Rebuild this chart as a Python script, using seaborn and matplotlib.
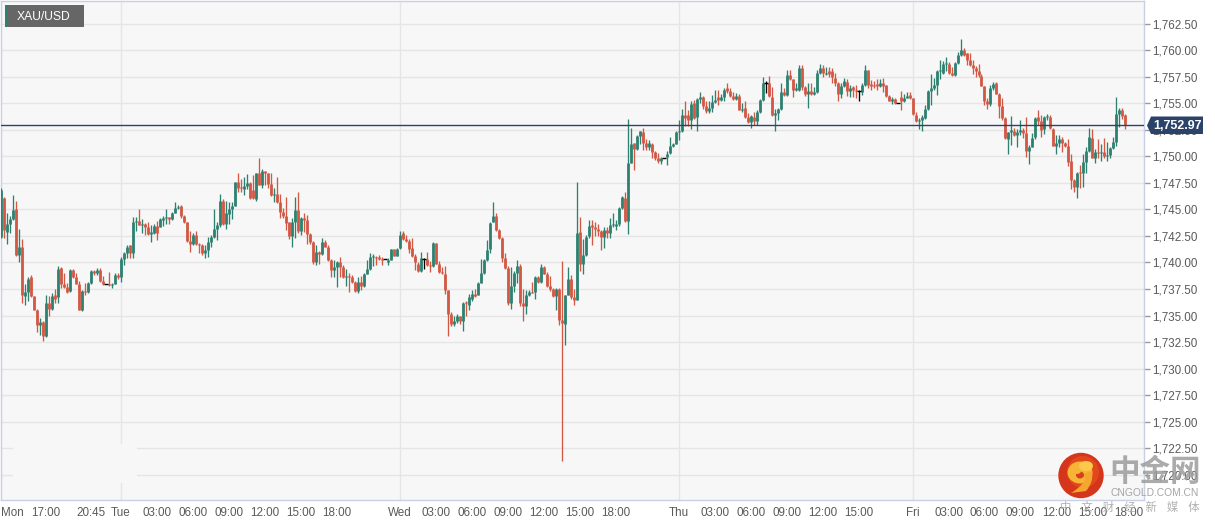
import matplotlib
matplotlib.use("Agg")
import matplotlib.pyplot as plt
import numpy as np
import pandas as pd
import seaborn as sns
from matplotlib.patches import Circle, Ellipse, PathPatch, Polygon, Rectangle
from matplotlib.path import Path

# 15 minute candles
opens = [
    1742.4, 1746.1, 1742.9, 1743.6, 1744.1, 1745.0, 1740.7, 1741.5, 1736.8, 1737.2,
    1738.6, 1736.8, 1735.5, 1734.1, 1734.4, 1733.1, 1736.2, 1735.6, 1736.9, 1736.7,
    1739.5, 1738.0, 1737.7, 1737.3, 1739.3, 1738.6, 1738.0, 1735.5, 1737.3, 1737.2,
    1738.1, 1739.2, 1739.0, 1739.3, 1738.3, 1738.0, 1738.0, 1737.9, 1738.0, 1738.8,
    1738.6, 1740.3, 1740.9, 1741.6, 1740.9, 1743.8, 1743.9, 1743.5, 1743.6, 1743.3,
    1742.7, 1742.8, 1743.4, 1743.3, 1744.0, 1744.2, 1744.3, 1744.1, 1744.7, 1745.1,
    1745.3, 1744.4, 1743.8, 1742.0, 1741.7, 1742.6, 1741.7, 1741.6, 1740.9, 1741.2,
    1741.9, 1742.4, 1743.2, 1743.5, 1745.8, 1743.6, 1744.6, 1745.0, 1745.3, 1747.6,
    1747.1, 1746.9, 1747.2, 1747.5, 1746.8, 1746.0, 1748.4, 1747.3, 1748.6, 1748.4,
    1747.4, 1746.4, 1746.5, 1745.7, 1744.8, 1744.4, 1743.8, 1742.5, 1743.8, 1744.9,
    1743.0, 1744.2, 1744.0, 1742.7, 1741.9, 1740.0, 1741.0, 1740.8, 1741.9, 1741.5,
    1740.2, 1739.3, 1739.6, 1740.0, 1739.6, 1738.6, 1738.7, 1738.6, 1738.2, 1737.3,
    1738.2, 1737.8, 1738.9, 1739.4, 1740.5, 1740.5, 1740.5, 1740.3, 1740.3, 1740.0,
    1740.2, 1741.3, 1740.6, 1741.4, 1742.8, 1742.2, 1742.0, 1741.4, 1740.6, 1739.9,
    1739.2, 1740.3, 1740.3, 1739.8, 1739.7, 1741.8, 1739.9, 1739.1, 1738.9, 1737.4,
    1735.1, 1734.2, 1734.5, 1735.0, 1734.5, 1736.3, 1736.0, 1736.6, 1737.0, 1736.9,
    1738.1, 1739.0, 1740.2, 1741.3, 1743.8, 1744.4, 1743.1, 1742.3, 1740.4, 1739.5,
    1736.2, 1737.8, 1739.0, 1739.7, 1736.2, 1735.9, 1736.9, 1737.2, 1737.2, 1738.6,
    1738.2, 1739.6, 1738.9, 1737.8, 1737.5, 1736.8, 1737.5, 1734.6, 1734.2, 1736.9,
    1738.4, 1736.7, 1736.5, 1742.9, 1739.9, 1740.7, 1742.5, 1743.5, 1743.3, 1743.2,
    1743.0, 1742.4, 1743.1, 1742.8, 1743.5, 1743.4, 1743.6, 1745.1, 1746.1, 1743.9,
    1749.4, 1751.3, 1750.7, 1751.9, 1752.3, 1751.3, 1750.9, 1751.2, 1750.4, 1749.8,
    1749.6, 1749.8, 1749.9, 1750.3, 1751.0, 1751.2, 1752.3, 1752.4, 1753.9, 1753.9,
    1753.4, 1755.0, 1753.7, 1755.4, 1755.6, 1754.7, 1754.3, 1754.6, 1755.1, 1755.6,
    1755.3, 1755.6, 1756.4, 1756.2, 1755.7, 1755.4, 1755.7, 1754.4, 1754.6, 1753.7,
    1753.2, 1753.7, 1753.3, 1754.2, 1755.3, 1756.9, 1756.9, 1755.6, 1753.9, 1754.1,
    1754.5, 1756.1, 1755.8, 1757.7, 1757.3, 1756.3, 1756.3, 1758.3, 1756.5, 1755.9,
    1756.2, 1755.9, 1756.1, 1757.9, 1758.3, 1757.8, 1758.0, 1758.0, 1757.4, 1756.9,
    1755.9, 1756.6, 1757.0, 1756.2, 1756.5, 1756.3, 1756.2, 1756.1, 1756.7, 1758.1,
    1756.8, 1756.7, 1756.8, 1756.6, 1756.9, 1756.7, 1755.7, 1755.2, 1755.4, 1755.0,
    1755.6, 1755.2, 1755.5, 1755.8, 1755.5, 1753.9, 1753.3, 1753.4, 1753.6, 1754.5,
    1756.2, 1756.4, 1756.7, 1758.0, 1757.9, 1758.7, 1758.7, 1757.9, 1757.7, 1758.8,
    1759.6, 1760.0, 1759.7, 1759.1, 1758.6, 1758.3, 1758.0, 1757.6, 1756.6, 1755.2,
    1754.9, 1756.4, 1756.9, 1755.9, 1754.7, 1753.6, 1751.6, 1752.3, 1752.4, 1752.0,
    1752.3, 1752.5, 1752.2, 1750.5, 1750.9, 1751.8, 1753.7, 1753.3, 1752.6, 1753.7,
    1753.7, 1752.6, 1751.0, 1751.3, 1751.6, 1751.3, 1751.0, 1749.6, 1747.8, 1747.1,
    1748.5, 1748.4, 1749.5, 1750.5, 1751.7, 1749.8, 1750.4, 1750.3, 1750.4, 1750.0,
    1750.1, 1750.8, 1751.4, 1754.0, 1754.4, 1753.9,
]
closes = [
    1746.8, 1743.1, 1743.6, 1744.1, 1744.9, 1740.7, 1741.5, 1736.9, 1737.2, 1738.4,
    1736.8, 1735.5, 1734.1, 1734.4, 1733.1, 1736.2, 1735.6, 1736.8, 1736.6, 1739.4,
    1738.0, 1737.7, 1737.2, 1739.3, 1738.6, 1738.0, 1735.5, 1737.3, 1737.2, 1738.1,
    1739.2, 1739.0, 1739.3, 1738.3, 1738.0, 1738.0, 1737.9, 1738.0, 1738.8, 1738.6,
    1740.3, 1740.9, 1741.5, 1740.9, 1743.8, 1743.9, 1743.5, 1743.6, 1743.3, 1742.7,
    1742.9, 1743.4, 1742.8, 1744.1, 1744.2, 1744.3, 1744.1, 1744.7, 1745.1, 1745.2,
    1744.4, 1743.8, 1742.0, 1741.7, 1742.6, 1741.7, 1741.6, 1740.9, 1741.2, 1741.9,
    1742.4, 1743.2, 1743.5, 1745.8, 1743.6, 1744.7, 1745.0, 1745.3, 1747.6, 1747.0,
    1747.0, 1747.2, 1747.5, 1746.1, 1746.1, 1748.4, 1747.3, 1748.6, 1748.4, 1747.4,
    1746.4, 1746.5, 1745.7, 1744.8, 1744.4, 1743.7, 1742.5, 1743.8, 1744.9, 1743.0,
    1744.2, 1744.0, 1742.7, 1741.9, 1740.0, 1741.0, 1740.8, 1741.9, 1741.5, 1740.2,
    1739.3, 1739.6, 1740.0, 1739.6, 1738.6, 1738.7, 1738.6, 1738.2, 1737.3, 1738.2,
    1737.8, 1738.9, 1739.4, 1740.5, 1740.6, 1740.4, 1740.3, 1740.2, 1740.3, 1740.2,
    1741.3, 1740.6, 1741.3, 1742.6, 1742.2, 1742.0, 1741.3, 1740.6, 1740.0, 1739.2,
    1740.4, 1740.3, 1739.8, 1739.7, 1741.8, 1739.9, 1739.1, 1739.0, 1737.4, 1735.1,
    1734.2, 1734.5, 1735.0, 1734.5, 1736.2, 1736.2, 1736.7, 1737.0, 1736.8, 1738.1,
    1739.0, 1740.2, 1741.2, 1743.7, 1744.4, 1743.1, 1742.3, 1740.4, 1739.5, 1736.2,
    1737.8, 1739.0, 1739.7, 1736.2, 1735.9, 1736.9, 1737.2, 1737.1, 1738.6, 1738.2,
    1739.6, 1738.9, 1737.8, 1737.5, 1736.8, 1737.5, 1734.6, 1734.3, 1736.9, 1738.4,
    1736.7, 1736.5, 1742.8, 1739.9, 1740.7, 1742.4, 1743.4, 1743.3, 1743.2, 1743.0,
    1742.4, 1743.1, 1742.8, 1743.5, 1743.6, 1743.6, 1745.1, 1746.2, 1743.9, 1749.4,
    1751.2, 1750.7, 1751.9, 1752.4, 1751.3, 1750.9, 1751.3, 1750.4, 1749.8, 1749.6,
    1749.8, 1749.8, 1750.2, 1751.0, 1751.2, 1752.3, 1752.4, 1753.9, 1753.6, 1753.4,
    1754.9, 1753.6, 1755.4, 1755.6, 1754.7, 1754.3, 1754.6, 1755.1, 1755.3, 1755.3,
    1755.6, 1756.3, 1756.2, 1755.7, 1755.4, 1755.7, 1754.4, 1754.5, 1753.7, 1753.2,
    1753.8, 1753.3, 1754.2, 1755.3, 1756.9, 1756.9, 1755.7, 1753.9, 1754.1, 1754.5,
    1756.1, 1755.8, 1757.7, 1757.3, 1756.3, 1756.4, 1758.3, 1756.5, 1755.9, 1756.2,
    1755.9, 1756.1, 1757.9, 1758.3, 1757.9, 1757.9, 1757.8, 1757.5, 1756.9, 1755.9,
    1756.6, 1757.1, 1756.2, 1756.4, 1756.3, 1756.2, 1756.2, 1756.7, 1758.1, 1756.7,
    1756.6, 1756.6, 1756.6, 1756.9, 1756.6, 1755.7, 1755.2, 1755.4, 1755.0, 1755.0,
    1755.2, 1755.5, 1755.7, 1755.5, 1754.0, 1753.3, 1753.4, 1753.7, 1754.5, 1756.2,
    1756.4, 1756.7, 1758.0, 1758.1, 1758.7, 1758.8, 1757.9, 1757.7, 1758.8, 1759.6,
    1760.0, 1759.6, 1759.1, 1758.6, 1758.3, 1758.0, 1757.7, 1756.6, 1755.2, 1754.9,
    1756.4, 1756.8, 1755.9, 1754.7, 1753.6, 1751.7, 1752.3, 1752.5, 1752.0, 1752.3,
    1752.5, 1752.2, 1750.5, 1750.9, 1751.7, 1753.6, 1753.3, 1752.5, 1753.7, 1753.8,
    1752.7, 1751.0, 1751.3, 1751.6, 1751.3, 1751.0, 1749.5, 1747.8, 1747.1, 1748.4,
    1748.4, 1749.5, 1750.5, 1751.8, 1749.8, 1750.4, 1750.3, 1750.4, 1750.0, 1750.1,
    1750.8, 1751.4, 1754.0, 1754.4, 1753.8, 1752.97,
]
highs = [
    1747.0, 1746.2, 1744.7, 1744.4, 1746.4, 1745.8, 1743.2, 1742.2, 1738.0, 1738.6,
    1738.8, 1736.8, 1735.6, 1734.8, 1734.5, 1736.9, 1736.8, 1737.1, 1737.5, 1739.7,
    1739.6, 1739.0, 1738.1, 1739.4, 1739.4, 1739.0, 1738.3, 1737.4, 1738.1, 1738.2,
    1739.3, 1739.3, 1739.5, 1739.5, 1738.7, 1738.0, 1739.1, 1738.1, 1739.0, 1739.0,
    1740.5, 1741.0, 1741.6, 1741.6, 1744.3, 1744.3, 1745.0, 1744.1, 1743.7, 1743.8,
    1743.5, 1743.6, 1743.9, 1744.2, 1744.4, 1745.0, 1744.3, 1744.8, 1745.7, 1745.4,
    1745.4, 1744.5, 1743.8, 1743.0, 1742.8, 1743.0, 1741.8, 1741.7, 1741.6, 1742.4,
    1742.6, 1745.0, 1743.8, 1746.5, 1746.0, 1745.8, 1745.7, 1745.7, 1747.6, 1748.4,
    1747.9, 1748.1, 1748.3, 1747.6, 1748.2, 1748.4, 1749.8, 1748.8, 1748.6, 1748.4,
    1748.4, 1747.0, 1748.1, 1746.5, 1745.1, 1746.2, 1743.8, 1744.2, 1746.2, 1746.6,
    1744.3, 1744.7, 1744.5, 1742.8, 1742.0, 1741.6, 1741.1, 1742.3, 1742.1, 1741.6,
    1740.3, 1740.2, 1740.1, 1740.5, 1739.8, 1739.4, 1739.0, 1738.8, 1738.3, 1738.6,
    1738.7, 1739.0, 1740.2, 1740.9, 1740.8, 1740.6, 1740.7, 1740.5, 1740.3, 1740.4,
    1741.3, 1741.3, 1741.4, 1743.0, 1743.0, 1742.6, 1742.2, 1742.3, 1740.8, 1740.0,
    1741.0, 1740.4, 1741.0, 1740.1, 1741.9, 1741.8, 1740.1, 1739.6, 1739.7, 1737.4,
    1735.3, 1735.0, 1735.1, 1735.0, 1736.3, 1736.4, 1737.0, 1737.4, 1737.5, 1738.2,
    1740.3, 1740.3, 1742.1, 1743.8, 1745.7, 1744.7, 1743.2, 1742.4, 1740.9, 1739.7,
    1739.6, 1739.2, 1740.2, 1739.9, 1737.5, 1737.4, 1737.4, 1738.2, 1738.7, 1738.7,
    1739.9, 1739.7, 1739.1, 1738.7, 1737.6, 1737.6, 1737.6, 1740.1, 1736.9, 1739.6,
    1738.8, 1737.5, 1747.6, 1744.3, 1742.2, 1742.6, 1744.0, 1744.0, 1743.8, 1743.6,
    1743.1, 1743.3, 1743.3, 1744.2, 1744.7, 1744.0, 1745.2, 1746.3, 1746.6, 1753.5,
    1752.7, 1751.3, 1752.0, 1752.4, 1752.7, 1751.6, 1751.5, 1751.3, 1750.5, 1750.3,
    1749.9, 1749.8, 1750.5, 1751.8, 1751.3, 1752.4, 1753.4, 1754.5, 1755.2, 1754.4,
    1755.2, 1755.3, 1755.5, 1756.1, 1755.7, 1755.2, 1755.2, 1755.8, 1756.3, 1756.3,
    1755.9, 1756.4, 1756.9, 1756.4, 1756.1, 1756.0, 1755.9, 1755.0, 1755.2, 1754.1,
    1753.9, 1754.2, 1754.4, 1755.4, 1757.5, 1757.1, 1757.6, 1756.5, 1754.5, 1754.6,
    1756.9, 1756.4, 1758.1, 1758.1, 1757.3, 1756.9, 1758.6, 1758.6, 1756.6, 1756.9,
    1756.9, 1756.5, 1758.1, 1758.7, 1758.6, 1758.4, 1758.4, 1758.3, 1757.9, 1757.0,
    1756.9, 1757.4, 1757.3, 1756.7, 1756.6, 1756.7, 1756.3, 1756.9, 1758.6, 1758.1,
    1757.2, 1757.1, 1757.3, 1757.3, 1757.4, 1756.7, 1755.8, 1755.6, 1755.5, 1755.0,
    1756.2, 1755.9, 1756.1, 1756.1, 1755.5, 1754.2, 1753.6, 1753.9, 1754.8, 1756.3,
    1757.8, 1757.4, 1758.1, 1759.1, 1759.0, 1759.4, 1758.9, 1758.4, 1758.9, 1759.8,
    1761.1, 1760.2, 1759.7, 1759.7, 1759.1, 1758.5, 1758.7, 1757.8, 1756.6, 1755.5,
    1756.7, 1757.0, 1757.0, 1756.0, 1755.5, 1753.7, 1752.3, 1753.8, 1752.7, 1752.6,
    1753.4, 1752.7, 1753.7, 1751.1, 1752.2, 1753.7, 1754.4, 1753.9, 1753.8, 1754.0,
    1753.9, 1752.7, 1752.0, 1752.0, 1751.8, 1751.4, 1751.6, 1750.2, 1747.9, 1748.5,
    1749.2, 1750.2, 1750.9, 1752.7, 1752.6, 1750.7, 1751.6, 1751.2, 1751.7, 1751.4,
    1750.9, 1751.8, 1755.6, 1754.6, 1754.6, 1754.0,
]
lows = [
    1742.3, 1742.3, 1741.7, 1742.8, 1744.0, 1740.6, 1740.0, 1736.2, 1736.0, 1736.4,
    1736.7, 1735.5, 1733.4, 1733.2, 1732.6, 1733.0, 1735.0, 1735.5, 1736.2, 1736.2,
    1737.6, 1737.6, 1737.1, 1737.2, 1738.5, 1738.0, 1735.5, 1735.4, 1736.9, 1737.1,
    1738.0, 1738.8, 1738.8, 1738.2, 1737.9, 1738.0, 1737.8, 1737.6, 1738.0, 1738.4,
    1738.2, 1739.8, 1740.4, 1740.4, 1740.4, 1743.0, 1743.5, 1742.8, 1742.6, 1742.6,
    1741.9, 1742.7, 1742.1, 1743.3, 1743.4, 1743.6, 1743.6, 1744.0, 1744.7, 1745.0,
    1744.2, 1743.7, 1741.9, 1741.0, 1741.6, 1741.6, 1740.9, 1740.7, 1740.4, 1740.5,
    1741.5, 1742.3, 1742.1, 1743.3, 1743.5, 1743.2, 1743.6, 1744.1, 1745.3, 1746.6,
    1746.6, 1746.4, 1746.9, 1746.0, 1746.0, 1745.8, 1747.3, 1747.0, 1747.3, 1747.0,
    1746.3, 1745.7, 1745.6, 1744.2, 1744.2, 1743.1, 1742.2, 1741.5, 1742.3, 1742.8,
    1742.6, 1742.9, 1741.7, 1741.7, 1739.9, 1739.8, 1739.9, 1740.7, 1741.5, 1740.1,
    1738.6, 1738.6, 1737.7, 1738.6, 1738.5, 1737.8, 1737.2, 1738.1, 1737.2, 1737.1,
    1737.4, 1737.7, 1738.9, 1739.3, 1739.7, 1739.8, 1740.2, 1739.8, 1740.3, 1739.8,
    1740.2, 1740.6, 1740.6, 1741.3, 1742.1, 1741.9, 1740.9, 1740.5, 1739.3, 1739.1,
    1739.1, 1739.4, 1739.7, 1739.1, 1739.6, 1739.9, 1739.0, 1738.9, 1737.0, 1733.1,
    1734.0, 1734.0, 1734.3, 1734.2, 1733.5, 1735.0, 1735.5, 1736.4, 1736.7, 1736.9,
    1738.1, 1738.9, 1740.1, 1740.9, 1743.8, 1743.0, 1742.2, 1740.0, 1739.4, 1736.0,
    1735.6, 1737.2, 1738.1, 1735.9, 1734.5, 1735.1, 1736.8, 1737.1, 1736.6, 1738.1,
    1738.1, 1738.9, 1737.7, 1737.3, 1736.7, 1735.5, 1734.1, 1721.3, 1732.2, 1736.9,
    1736.6, 1736.0, 1736.5, 1739.2, 1738.9, 1740.6, 1742.3, 1741.6, 1742.5, 1742.5,
    1741.2, 1741.4, 1742.3, 1742.3, 1743.3, 1743.1, 1743.4, 1745.0, 1743.8, 1742.7,
    1749.4, 1748.7, 1750.6, 1751.2, 1750.6, 1750.6, 1750.6, 1749.8, 1749.7, 1749.4,
    1749.3, 1749.8, 1749.2, 1750.2, 1750.9, 1751.2, 1751.5, 1752.3, 1752.9, 1752.9,
    1752.6, 1753.5, 1752.4, 1755.0, 1754.5, 1754.1, 1754.1, 1754.2, 1755.0, 1754.8,
    1755.2, 1755.2, 1756.0, 1755.6, 1755.3, 1755.3, 1754.4, 1754.2, 1753.6, 1753.1,
    1752.7, 1753.0, 1753.0, 1754.1, 1755.2, 1756.0, 1755.6, 1753.8, 1752.4, 1753.4,
    1754.4, 1755.7, 1755.7, 1757.2, 1755.6, 1756.2, 1756.2, 1756.3, 1755.7, 1754.6,
    1755.8, 1755.8, 1756.0, 1757.8, 1757.5, 1757.7, 1757.5, 1756.9, 1756.6, 1755.2,
    1755.5, 1756.5, 1755.7, 1755.6, 1755.6, 1755.5, 1755.2, 1755.8, 1756.6, 1756.4,
    1756.3, 1756.4, 1756.3, 1756.5, 1756.1, 1755.6, 1755.2, 1754.9, 1754.9, 1755.0,
    1754.4, 1755.1, 1755.5, 1755.4, 1753.9, 1753.2, 1752.6, 1752.4, 1753.5, 1754.4,
    1754.8, 1756.3, 1755.8, 1757.3, 1757.8, 1758.0, 1757.8, 1757.6, 1757.6, 1758.7,
    1759.5, 1759.5, 1758.6, 1758.5, 1757.8, 1757.5, 1757.5, 1756.6, 1754.8, 1754.5,
    1754.7, 1756.3, 1755.9, 1753.6, 1753.4, 1751.6, 1750.2, 1751.1, 1751.9, 1750.9,
    1752.0, 1751.7, 1749.9, 1749.3, 1750.9, 1751.6, 1753.0, 1751.8, 1752.1, 1753.4,
    1752.6, 1751.0, 1750.2, 1750.9, 1750.4, 1750.9, 1749.1, 1746.9, 1746.6, 1746.1,
    1747.0, 1747.1, 1748.4, 1750.4, 1749.8, 1749.4, 1749.8, 1749.6, 1749.8, 1749.6,
    1749.8, 1750.7, 1751.0, 1752.8, 1753.5, 1752.6,
]

last_price = 1752.97
price_ticks = [1720 + 2.5 * k for k in range(18)]
x_ticks = [0, 15, 30, 40, 52, 64, 76, 88, 100, 112, 133, 145, 157, 169, 181, 193, 205,
           226, 238, 250, 262, 274, 286, 304, 316, 328, 340, 352, 364, 376]
x_labels = ["Mon", "17:00", "20:45", "Tue", "03:00", "06:00", "09:00", "12:00", "15:00", "18:00",
            "Wed", "03:00", "06:00", "09:00", "12:00", "15:00", "18:00",
            "Thu", "03:00", "06:00", "09:00", "12:00", "15:00",
            "Fri", "03:00", "06:00", "09:00", "12:00", "15:00", "18:00"]
day_lines = [40, 133, 226, 304]

UP = "#2e8170"
DOWN = "#d25844"
FLAT = "#000000"
NAVY = "#2b4369"
EDGE = "#c9cfe4"
GRID = "#e5e5e5"
TEXT = "#5a5a5a"

sns.set_theme(style="white")
plt.rcParams["font.family"] = ["Liberation Sans", "Noto Sans CJK SC", "DejaVu Sans"]

df = pd.DataFrame({"open": opens, "high": highs, "low": lows, "close": closes})
df["i"] = df.index
df["kind"] = np.where(df["close"] > df["open"], "up", np.where(df["close"] < df["open"], "down", "flat"))
palette = {"up": UP, "down": DOWN, "flat": FLAT}

wicks = df.melt(id_vars=["i", "kind"], value_vars=["low", "high"], value_name="price")
bodies = df[df["kind"] != "flat"].melt(id_vars=["i", "kind"], value_vars=["open", "close"], value_name="price")
flats = df[df["kind"] == "flat"]

fig = plt.figure(figsize=(12.15, 5.25), dpi=100, facecolor="white")
ax = fig.add_axes([0.5 / 1215, 25.5 / 525, 1143.5 / 1215, 499 / 525], facecolor="#f7f7f7")

sns.lineplot(data=wicks, x="i", y="price", hue="kind", units="i", estimator=None, sort=False,
             palette=palette, linewidth=0.95, legend=False, ax=ax, zorder=3, solid_capstyle="butt")
sns.lineplot(data=bodies, x="i", y="price", hue="kind", units="i", estimator=None, sort=False,
             palette=palette, linewidth=2.0, legend=False, ax=ax, zorder=4, solid_capstyle="butt")
sns.scatterplot(data=flats, x="i", y="close", marker="_", color=FLAT, s=10, linewidth=1,
                legend=False, ax=ax, zorder=4)

ax.set_xlim(-0.2, 381.2)
ax.set_ylim(1717.66, 1764.69)
ax.set_xlabel("")
ax.set_ylabel("")

for p in price_ticks:
    ax.axhline(p, color=GRID, lw=1, zorder=1)
for d in day_lines:
    ax.axvline(d, color=GRID, lw=1, zorder=1)
ax.axhline(last_price, color=NAVY, lw=1, zorder=5)

ax.yaxis.tick_right()
ax.set_yticks(price_ticks)
ax.set_yticklabels([f"{p:,.2f}" for p in price_ticks])
ax.set_xticks(x_ticks)
ax.set_xticklabels(x_labels)
ax.tick_params(axis="y", length=4, width=1, color="#999999", labelcolor=TEXT, labelsize=8.4, pad=1.6)
ax.tick_params(axis="x", length=2.5, width=1, color="#999999", labelcolor=TEXT, labelsize=8.4, pad=3)
ax.get_xticklabels()[0].set_ha("left")
for s in ax.spines.values():
    s.set_color(EDGE)
    s.set_linewidth(1)

# overlay in pixel coordinates for the badge, price flag and watermark
top = fig.add_axes([0, 0, 1, 1], facecolor="none", zorder=10)
top.set_xlim(0, 1215)
top.set_ylim(525, 0)
top.axis("off")

# faded patch behind the old watermark bottom left
top.add_patch(Rectangle((13, 444), 124, 39, fc="#f7f7f7", ec="none"))

top.add_patch(Rectangle((5, 5), 79, 22, fc="#666666", ec="none"))
top.add_patch(Rectangle((5, 5), 3, 22, fc=UP, ec="none"))
top.text(17, 16.5, "XAU/USD", color="white", fontsize=8.7, va="center", ha="left")

top.add_patch(Polygon([(1147, 125.5), (1151, 116.5), (1203, 116.5), (1203, 134), (1151, 134)],
                      closed=True, fc=NAVY, ec="none"))
top.text(1177, 125.8, f"{last_price:,.2f}", color="white", fontsize=9, fontweight="bold",
         va="center", ha="center")

# logo
top.add_patch(Circle((1081, 475.5), 22.7, fc="#d5361b", ec="none"))
top.add_patch(Circle((1083, 472), 16, fc="#e2481c", ec="none"))
top.add_patch(Ellipse((1080, 472.5), 25, 22, fc="#f8b437", ec="none"))
top.add_patch(Ellipse((1086, 466), 14, 10, fc="#fbc94a", ec="none"))
verts = [(1092, 471), (1094, 482), (1086, 491), (1071, 493), (1081, 487), (1085, 480), (1084, 474), (1092, 471)]
codes = [Path.MOVETO, Path.CURVE3, Path.CURVE3, Path.LINETO, Path.CURVE3, Path.CURVE3, Path.LINETO, Path.CLOSEPOLY]
top.add_patch(PathPatch(Path(verts, codes), fc="#f5a62e", ec="none"))
top.add_patch(Ellipse((1080, 475), 8, 7, fc="#d8401c", ec="none"))
top.add_patch(Ellipse((1077, 471), 8, 6, fc="#f8b437", ec="none"))

top.text(1155, 472, "中金网", color="#9c9c9c", alpha=0.85, fontsize=22, fontweight="bold", va="center", ha="center",
         family=["Noto Sans CJK SC"])
top.text(1154.5, 493, "CNGOLD.COM.CN", color="#a5a5a5", fontsize=7.4, va="center", ha="center")
top.text(1130, 507, "中    文    财    经    新    媒    体", color="#a8a8a8", alpha=0.9, fontsize=8.2, va="center", ha="center",
         family=["Noto Sans CJK SC"])

fig.savefig("out.png", dpi=100)
